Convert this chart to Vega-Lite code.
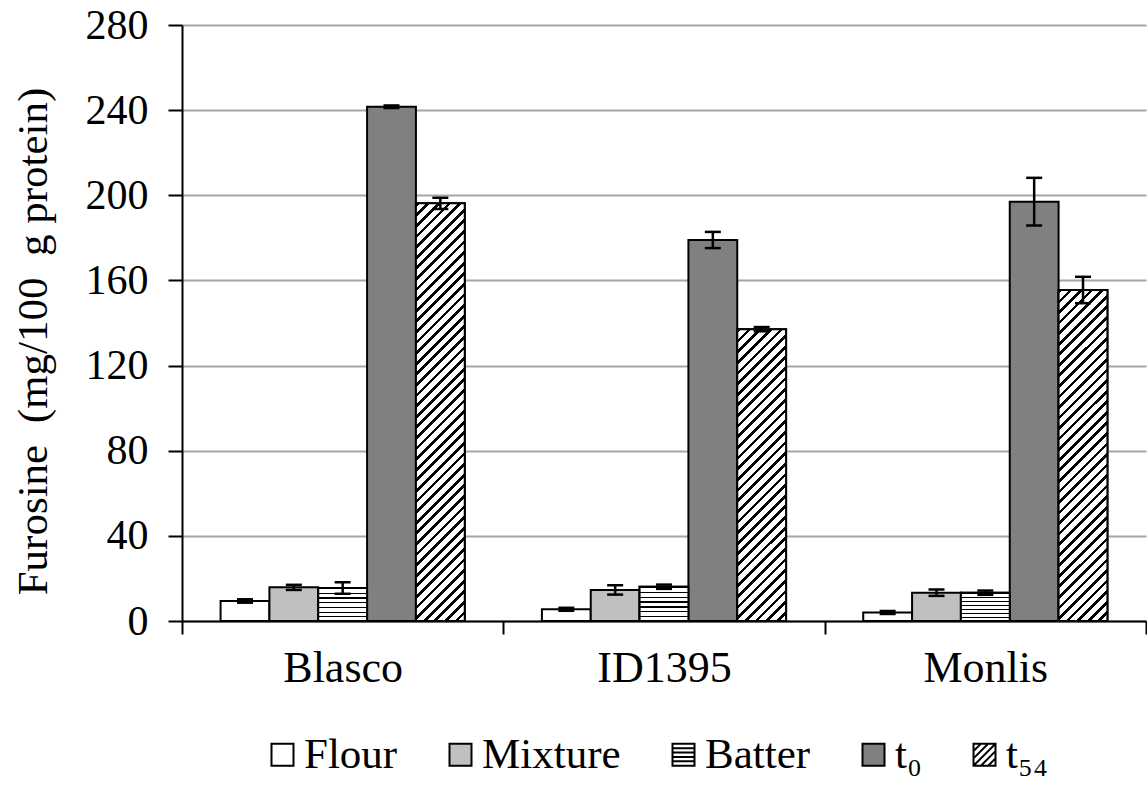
{
  "$schema": "https://vega.github.io/schema/vega-lite/v6.json",
  "width": 964,
  "height": 596,
  "autosize": "none",
  "padding": {"left": 182, "top": 25, "right": 1, "bottom": 166},
  "background": "white",
  "config": {
    "font": "Liberation Serif",
    "view": {"stroke": null},
    "axis": {"labelFont": "Liberation Serif", "titleFont": "Liberation Serif", "labelColor": "black", "titleColor": "black", "domainColor": "black", "tickColor": "black", "domainWidth": 2, "tickWidth": 2}
  },
  "data": {
    "values": [
      {"cultivar": "Blasco", "series": "Flour", "mean": 9.4, "lo": 8.6, "hi": 10.2},
      {"cultivar": "Blasco", "series": "Mixture", "mean": 15.8, "lo": 14.6, "hi": 17.0},
      {"cultivar": "Blasco", "series": "Batter", "mean": 15.5, "lo": 12.8, "hi": 18.2},
      {"cultivar": "Blasco", "series": "t₀", "mean": 241.6, "lo": 241.0, "hi": 242.2},
      {"cultivar": "Blasco", "series": "t₅₄", "mean": 196.2, "lo": 193.6, "hi": 198.8},
      {"cultivar": "ID1395", "series": "Flour", "mean": 5.5, "lo": 4.8, "hi": 6.2},
      {"cultivar": "ID1395", "series": "Mixture", "mean": 14.6, "lo": 12.4, "hi": 16.8},
      {"cultivar": "ID1395", "series": "Batter", "mean": 16.1, "lo": 15.1, "hi": 17.1},
      {"cultivar": "ID1395", "series": "t₀", "mean": 179.0, "lo": 175.2, "hi": 182.8},
      {"cultivar": "ID1395", "series": "t₅₄", "mean": 137.1, "lo": 136.1, "hi": 138.1},
      {"cultivar": "Monlis", "series": "Flour", "mean": 4.0, "lo": 3.3, "hi": 4.7},
      {"cultivar": "Monlis", "series": "Mixture", "mean": 13.3, "lo": 11.8, "hi": 14.8},
      {"cultivar": "Monlis", "series": "Batter", "mean": 13.3, "lo": 12.3, "hi": 14.3},
      {"cultivar": "Monlis", "series": "t₀", "mean": 197.0, "lo": 185.8, "hi": 208.2},
      {"cultivar": "Monlis", "series": "t₅₄", "mean": 155.5, "lo": 149.3, "hi": 161.7}
    ]
  },
  "encoding": {
    "x": {
      "field": "cultivar", "type": "nominal",
      "scale": {"domain": ["Blasco", "ID1395", "Monlis"], "paddingInner": 0, "paddingOuter": 0},
      "axis": {"title": null, "labelAngle": 0, "labelFontSize": 44, "tickBand": "extent", "tickSize": 13, "labelPadding": 12, "grid": false}
    },
    "xOffset": {
      "field": "series", "type": "nominal",
      "scale": {"domain": ["Flour", "Mixture", "Batter", "t₀", "t₅₄"], "paddingInner": 0, "paddingOuter": 0.79}
    }
  },
  "layer": [
    {
      "mark": {"type": "bar", "stroke": "black", "strokeWidth": 2},
      "encoding": {
        "y": {
          "field": "mean", "type": "quantitative",
          "scale": {"domain": [0, 280], "nice": false},
          "axis": {"values": [0, 40, 80, 120, 160, 200, 240, 280], "labelFontSize": 42, "tickSize": 14, "labelPadding": 20, "gridColor": "#a6a6a6", "gridWidth": 2, "grid": true, "title": "Furosine\u00a0\u00a0(mg/100\u00a0\u00a0g protein)", "titleFontSize": 43, "titleFontWeight": "normal", "titleX": -149, "titleY": 316, "titleAngle": -90, "titleAlign": "center", "titleBaseline": "middle"}
        },
        "color": {
          "field": "series", "type": "nominal",
          "scale": {"domain": ["Flour", "Mixture", "Batter", "t₀", "t₅₄"], "range": ["white", "#c0c0c0", "white", "#808080", "white"]},
          "legend": {
            "title": null, "orient": "none", "legendX": 79, "legendY": 708, "direction": "horizontal", "columns": 5,
            "labelFont": "Liberation Serif", "labelFontSize": 43, "labelColor": "black", "labelLimit": 0,
            "symbolType": {"expr": "datum.value === 'Batter' ? 'M-1,-1H1V1H-1Z M-1,-0.6H1 M-1,-0.2H1 M-1,0.2H1 M-1,0.6H1' : datum.value === 't₅₄' ? 'M-1,-1H1V1H-1Z M-1,-0.33L-0.33,-1 M-1,0.33L0.33,-1 M-1,1L1,-1 M-0.33,1L1,-0.33 M0.33,1L1,0.33' : 'square'"},
            "symbolSize": 484, "symbolStrokeColor": "black", "symbolStrokeWidth": 2, "symbolOpacity": 1,
            "labelOffset": 0, "columnPadding": 41, "padding": 0
          }
        }
      }
    },
    {
      "transform": [{"filter": "datum.series === 'Batter'"}],
      "mark": {"type": "bar", "stroke": "black", "strokeWidth": 2, "fill": {"gradient": "linear", "x1": 0, "y1": 0, "x2": 0, "y2": 1, "stops": [
        {"offset": 0, "color": "#000"}, {"offset": 0.0357, "color": "#000"}, {"offset": 0.0357, "color": "#fff"}, {"offset": 0.1429, "color": "#fff"},
        {"offset": 0.1429, "color": "#000"}, {"offset": 0.1786, "color": "#000"}, {"offset": 0.1786, "color": "#fff"}, {"offset": 0.2857, "color": "#fff"},
        {"offset": 0.2857, "color": "#000"}, {"offset": 0.3214, "color": "#000"}, {"offset": 0.3214, "color": "#fff"}, {"offset": 0.4286, "color": "#fff"},
        {"offset": 0.4286, "color": "#000"}, {"offset": 0.4643, "color": "#000"}, {"offset": 0.4643, "color": "#fff"}, {"offset": 0.5714, "color": "#fff"},
        {"offset": 0.5714, "color": "#000"}, {"offset": 0.6071, "color": "#000"}, {"offset": 0.6071, "color": "#fff"}, {"offset": 0.7143, "color": "#fff"},
        {"offset": 0.7143, "color": "#000"}, {"offset": 0.75, "color": "#000"}, {"offset": 0.75, "color": "#fff"}, {"offset": 0.8571, "color": "#fff"},
        {"offset": 0.8571, "color": "#000"}, {"offset": 0.8929, "color": "#000"}, {"offset": 0.8929, "color": "#fff"}, {"offset": 1, "color": "#fff"}
      ]}},
      "encoding": {"y": {"field": "mean", "type": "quantitative"}}
    },
    {
      "transform": [{"filter": "datum.series === 't₅₄' && datum.cultivar === 'Blasco'"}],
      "mark": {"type": "bar", "stroke": "black", "strokeWidth": 2, "fill": {"gradient": "linear", "x1": 0, "y1": 0, "x2": 0.12876, "y2": 1.10186, "stops": [
        {"offset": 0, "color": "#000"}, {"offset": 0.0080, "color": "#000"}, {"offset": 0.0080, "color": "#fff"}, {"offset": 0.0227, "color": "#fff"},
        {"offset": 0.0227, "color": "#000"}, {"offset": 0.0307, "color": "#000"}, {"offset": 0.0307, "color": "#fff"}, {"offset": 0.0455, "color": "#fff"},
        {"offset": 0.0455, "color": "#000"}, {"offset": 0.0534, "color": "#000"}, {"offset": 0.0534, "color": "#fff"}, {"offset": 0.0682, "color": "#fff"},
        {"offset": 0.0682, "color": "#000"}, {"offset": 0.0761, "color": "#000"}, {"offset": 0.0761, "color": "#fff"}, {"offset": 0.0909, "color": "#fff"},
        {"offset": 0.0909, "color": "#000"}, {"offset": 0.0989, "color": "#000"}, {"offset": 0.0989, "color": "#fff"}, {"offset": 0.1136, "color": "#fff"},
        {"offset": 0.1136, "color": "#000"}, {"offset": 0.1216, "color": "#000"}, {"offset": 0.1216, "color": "#fff"}, {"offset": 0.1364, "color": "#fff"},
        {"offset": 0.1364, "color": "#000"}, {"offset": 0.1443, "color": "#000"}, {"offset": 0.1443, "color": "#fff"}, {"offset": 0.1591, "color": "#fff"},
        {"offset": 0.1591, "color": "#000"}, {"offset": 0.1670, "color": "#000"}, {"offset": 0.1670, "color": "#fff"}, {"offset": 0.1818, "color": "#fff"},
        {"offset": 0.1818, "color": "#000"}, {"offset": 0.1898, "color": "#000"}, {"offset": 0.1898, "color": "#fff"}, {"offset": 0.2045, "color": "#fff"},
        {"offset": 0.2045, "color": "#000"}, {"offset": 0.2125, "color": "#000"}, {"offset": 0.2125, "color": "#fff"}, {"offset": 0.2273, "color": "#fff"},
        {"offset": 0.2273, "color": "#000"}, {"offset": 0.2352, "color": "#000"}, {"offset": 0.2352, "color": "#fff"}, {"offset": 0.25, "color": "#fff"},
        {"offset": 0.25, "color": "#000"}, {"offset": 0.2580, "color": "#000"}, {"offset": 0.2580, "color": "#fff"}, {"offset": 0.2727, "color": "#fff"},
        {"offset": 0.2727, "color": "#000"}, {"offset": 0.2807, "color": "#000"}, {"offset": 0.2807, "color": "#fff"}, {"offset": 0.2955, "color": "#fff"},
        {"offset": 0.2955, "color": "#000"}, {"offset": 0.3034, "color": "#000"}, {"offset": 0.3034, "color": "#fff"}, {"offset": 0.3182, "color": "#fff"},
        {"offset": 0.3182, "color": "#000"}, {"offset": 0.3261, "color": "#000"}, {"offset": 0.3261, "color": "#fff"}, {"offset": 0.3409, "color": "#fff"},
        {"offset": 0.3409, "color": "#000"}, {"offset": 0.3489, "color": "#000"}, {"offset": 0.3489, "color": "#fff"}, {"offset": 0.3636, "color": "#fff"},
        {"offset": 0.3636, "color": "#000"}, {"offset": 0.3716, "color": "#000"}, {"offset": 0.3716, "color": "#fff"}, {"offset": 0.3864, "color": "#fff"},
        {"offset": 0.3864, "color": "#000"}, {"offset": 0.3943, "color": "#000"}, {"offset": 0.3943, "color": "#fff"}, {"offset": 0.4091, "color": "#fff"},
        {"offset": 0.4091, "color": "#000"}, {"offset": 0.4170, "color": "#000"}, {"offset": 0.4170, "color": "#fff"}, {"offset": 0.4318, "color": "#fff"},
        {"offset": 0.4318, "color": "#000"}, {"offset": 0.4398, "color": "#000"}, {"offset": 0.4398, "color": "#fff"}, {"offset": 0.4545, "color": "#fff"},
        {"offset": 0.4545, "color": "#000"}, {"offset": 0.4625, "color": "#000"}, {"offset": 0.4625, "color": "#fff"}, {"offset": 0.4773, "color": "#fff"},
        {"offset": 0.4773, "color": "#000"}, {"offset": 0.4852, "color": "#000"}, {"offset": 0.4852, "color": "#fff"}, {"offset": 0.5, "color": "#fff"},
        {"offset": 0.5, "color": "#000"}, {"offset": 0.5080, "color": "#000"}, {"offset": 0.5080, "color": "#fff"}, {"offset": 0.5227, "color": "#fff"},
        {"offset": 0.5227, "color": "#000"}, {"offset": 0.5307, "color": "#000"}, {"offset": 0.5307, "color": "#fff"}, {"offset": 0.5455, "color": "#fff"},
        {"offset": 0.5455, "color": "#000"}, {"offset": 0.5534, "color": "#000"}, {"offset": 0.5534, "color": "#fff"}, {"offset": 0.5682, "color": "#fff"},
        {"offset": 0.5682, "color": "#000"}, {"offset": 0.5761, "color": "#000"}, {"offset": 0.5761, "color": "#fff"}, {"offset": 0.5909, "color": "#fff"},
        {"offset": 0.5909, "color": "#000"}, {"offset": 0.5989, "color": "#000"}, {"offset": 0.5989, "color": "#fff"}, {"offset": 0.6136, "color": "#fff"},
        {"offset": 0.6136, "color": "#000"}, {"offset": 0.6216, "color": "#000"}, {"offset": 0.6216, "color": "#fff"}, {"offset": 0.6364, "color": "#fff"},
        {"offset": 0.6364, "color": "#000"}, {"offset": 0.6443, "color": "#000"}, {"offset": 0.6443, "color": "#fff"}, {"offset": 0.6591, "color": "#fff"},
        {"offset": 0.6591, "color": "#000"}, {"offset": 0.6670, "color": "#000"}, {"offset": 0.6670, "color": "#fff"}, {"offset": 0.6818, "color": "#fff"},
        {"offset": 0.6818, "color": "#000"}, {"offset": 0.6898, "color": "#000"}, {"offset": 0.6898, "color": "#fff"}, {"offset": 0.7045, "color": "#fff"},
        {"offset": 0.7045, "color": "#000"}, {"offset": 0.7125, "color": "#000"}, {"offset": 0.7125, "color": "#fff"}, {"offset": 0.7273, "color": "#fff"},
        {"offset": 0.7273, "color": "#000"}, {"offset": 0.7352, "color": "#000"}, {"offset": 0.7352, "color": "#fff"}, {"offset": 0.75, "color": "#fff"},
        {"offset": 0.75, "color": "#000"}, {"offset": 0.7580, "color": "#000"}, {"offset": 0.7580, "color": "#fff"}, {"offset": 0.7727, "color": "#fff"},
        {"offset": 0.7727, "color": "#000"}, {"offset": 0.7807, "color": "#000"}, {"offset": 0.7807, "color": "#fff"}, {"offset": 0.7955, "color": "#fff"},
        {"offset": 0.7955, "color": "#000"}, {"offset": 0.8034, "color": "#000"}, {"offset": 0.8034, "color": "#fff"}, {"offset": 0.8182, "color": "#fff"},
        {"offset": 0.8182, "color": "#000"}, {"offset": 0.8261, "color": "#000"}, {"offset": 0.8261, "color": "#fff"}, {"offset": 0.8409, "color": "#fff"},
        {"offset": 0.8409, "color": "#000"}, {"offset": 0.8489, "color": "#000"}, {"offset": 0.8489, "color": "#fff"}, {"offset": 0.8636, "color": "#fff"},
        {"offset": 0.8636, "color": "#000"}, {"offset": 0.8716, "color": "#000"}, {"offset": 0.8716, "color": "#fff"}, {"offset": 0.8864, "color": "#fff"},
        {"offset": 0.8864, "color": "#000"}, {"offset": 0.8943, "color": "#000"}, {"offset": 0.8943, "color": "#fff"}, {"offset": 0.9091, "color": "#fff"},
        {"offset": 0.9091, "color": "#000"}, {"offset": 0.9170, "color": "#000"}, {"offset": 0.9170, "color": "#fff"}, {"offset": 0.9318, "color": "#fff"},
        {"offset": 0.9318, "color": "#000"}, {"offset": 0.9398, "color": "#000"}, {"offset": 0.9398, "color": "#fff"}, {"offset": 0.9545, "color": "#fff"},
        {"offset": 0.9545, "color": "#000"}, {"offset": 0.9625, "color": "#000"}, {"offset": 0.9625, "color": "#fff"}, {"offset": 0.9773, "color": "#fff"},
        {"offset": 0.9773, "color": "#000"}, {"offset": 0.9852, "color": "#000"}, {"offset": 0.9852, "color": "#fff"}, {"offset": 1, "color": "#fff"}
      ]}},
      "encoding": {"y": {"field": "mean", "type": "quantitative"}}
    },
    {
      "transform": [{"filter": "datum.series === 't₅₄' && datum.cultivar === 'ID1395'"}],
      "mark": {"type": "bar", "stroke": "black", "strokeWidth": 2, "fill": {"gradient": "linear", "x1": 0, "y1": 0, "x2": 0.1899, "y2": 1.13546, "stops": [
        {"offset": 0, "color": "#000"}, {"offset": 0.0109, "color": "#000"}, {"offset": 0.0109, "color": "#fff"}, {"offset": 0.03125, "color": "#fff"},
        {"offset": 0.03125, "color": "#000"}, {"offset": 0.0422, "color": "#000"}, {"offset": 0.0422, "color": "#fff"}, {"offset": 0.0625, "color": "#fff"},
        {"offset": 0.0625, "color": "#000"}, {"offset": 0.0734, "color": "#000"}, {"offset": 0.0734, "color": "#fff"}, {"offset": 0.09375, "color": "#fff"},
        {"offset": 0.09375, "color": "#000"}, {"offset": 0.1047, "color": "#000"}, {"offset": 0.1047, "color": "#fff"}, {"offset": 0.125, "color": "#fff"},
        {"offset": 0.125, "color": "#000"}, {"offset": 0.1359, "color": "#000"}, {"offset": 0.1359, "color": "#fff"}, {"offset": 0.15625, "color": "#fff"},
        {"offset": 0.15625, "color": "#000"}, {"offset": 0.1672, "color": "#000"}, {"offset": 0.1672, "color": "#fff"}, {"offset": 0.1875, "color": "#fff"},
        {"offset": 0.1875, "color": "#000"}, {"offset": 0.1984, "color": "#000"}, {"offset": 0.1984, "color": "#fff"}, {"offset": 0.21875, "color": "#fff"},
        {"offset": 0.21875, "color": "#000"}, {"offset": 0.2297, "color": "#000"}, {"offset": 0.2297, "color": "#fff"}, {"offset": 0.25, "color": "#fff"},
        {"offset": 0.25, "color": "#000"}, {"offset": 0.2609, "color": "#000"}, {"offset": 0.2609, "color": "#fff"}, {"offset": 0.28125, "color": "#fff"},
        {"offset": 0.28125, "color": "#000"}, {"offset": 0.2922, "color": "#000"}, {"offset": 0.2922, "color": "#fff"}, {"offset": 0.3125, "color": "#fff"},
        {"offset": 0.3125, "color": "#000"}, {"offset": 0.3234, "color": "#000"}, {"offset": 0.3234, "color": "#fff"}, {"offset": 0.34375, "color": "#fff"},
        {"offset": 0.34375, "color": "#000"}, {"offset": 0.3547, "color": "#000"}, {"offset": 0.3547, "color": "#fff"}, {"offset": 0.375, "color": "#fff"},
        {"offset": 0.375, "color": "#000"}, {"offset": 0.3859, "color": "#000"}, {"offset": 0.3859, "color": "#fff"}, {"offset": 0.40625, "color": "#fff"},
        {"offset": 0.40625, "color": "#000"}, {"offset": 0.4172, "color": "#000"}, {"offset": 0.4172, "color": "#fff"}, {"offset": 0.4375, "color": "#fff"},
        {"offset": 0.4375, "color": "#000"}, {"offset": 0.4484, "color": "#000"}, {"offset": 0.4484, "color": "#fff"}, {"offset": 0.46875, "color": "#fff"},
        {"offset": 0.46875, "color": "#000"}, {"offset": 0.4797, "color": "#000"}, {"offset": 0.4797, "color": "#fff"}, {"offset": 0.5, "color": "#fff"},
        {"offset": 0.5, "color": "#000"}, {"offset": 0.5109, "color": "#000"}, {"offset": 0.5109, "color": "#fff"}, {"offset": 0.53125, "color": "#fff"},
        {"offset": 0.53125, "color": "#000"}, {"offset": 0.5422, "color": "#000"}, {"offset": 0.5422, "color": "#fff"}, {"offset": 0.5625, "color": "#fff"},
        {"offset": 0.5625, "color": "#000"}, {"offset": 0.5734, "color": "#000"}, {"offset": 0.5734, "color": "#fff"}, {"offset": 0.59375, "color": "#fff"},
        {"offset": 0.59375, "color": "#000"}, {"offset": 0.6047, "color": "#000"}, {"offset": 0.6047, "color": "#fff"}, {"offset": 0.625, "color": "#fff"},
        {"offset": 0.625, "color": "#000"}, {"offset": 0.6359, "color": "#000"}, {"offset": 0.6359, "color": "#fff"}, {"offset": 0.65625, "color": "#fff"},
        {"offset": 0.65625, "color": "#000"}, {"offset": 0.6672, "color": "#000"}, {"offset": 0.6672, "color": "#fff"}, {"offset": 0.6875, "color": "#fff"},
        {"offset": 0.6875, "color": "#000"}, {"offset": 0.6984, "color": "#000"}, {"offset": 0.6984, "color": "#fff"}, {"offset": 0.71875, "color": "#fff"},
        {"offset": 0.71875, "color": "#000"}, {"offset": 0.7297, "color": "#000"}, {"offset": 0.7297, "color": "#fff"}, {"offset": 0.75, "color": "#fff"},
        {"offset": 0.75, "color": "#000"}, {"offset": 0.7609, "color": "#000"}, {"offset": 0.7609, "color": "#fff"}, {"offset": 0.78125, "color": "#fff"},
        {"offset": 0.78125, "color": "#000"}, {"offset": 0.7922, "color": "#000"}, {"offset": 0.7922, "color": "#fff"}, {"offset": 0.8125, "color": "#fff"},
        {"offset": 0.8125, "color": "#000"}, {"offset": 0.8234, "color": "#000"}, {"offset": 0.8234, "color": "#fff"}, {"offset": 0.84375, "color": "#fff"},
        {"offset": 0.84375, "color": "#000"}, {"offset": 0.8547, "color": "#000"}, {"offset": 0.8547, "color": "#fff"}, {"offset": 0.875, "color": "#fff"},
        {"offset": 0.875, "color": "#000"}, {"offset": 0.8859, "color": "#000"}, {"offset": 0.8859, "color": "#fff"}, {"offset": 0.90625, "color": "#fff"},
        {"offset": 0.90625, "color": "#000"}, {"offset": 0.9172, "color": "#000"}, {"offset": 0.9172, "color": "#fff"}, {"offset": 0.9375, "color": "#fff"},
        {"offset": 0.9375, "color": "#000"}, {"offset": 0.9484, "color": "#000"}, {"offset": 0.9484, "color": "#fff"}, {"offset": 0.96875, "color": "#fff"},
        {"offset": 0.96875, "color": "#000"}, {"offset": 0.9797, "color": "#000"}, {"offset": 0.9797, "color": "#fff"}, {"offset": 1, "color": "#fff"}
      ]}},
      "encoding": {"y": {"field": "mean", "type": "quantitative"}}
    },
    {
      "transform": [{"filter": "datum.series === 't₅₄' && datum.cultivar === 'Monlis'"}],
      "mark": {"type": "bar", "stroke": "black", "strokeWidth": 2, "fill": {"gradient": "linear", "x1": 0, "y1": 0, "x2": 0.16556, "y2": 1.12298, "stops": [
        {"offset": 0, "color": "#000"}, {"offset": 0.0097, "color": "#000"}, {"offset": 0.0097, "color": "#fff"}, {"offset": 0.0278, "color": "#fff"},
        {"offset": 0.0278, "color": "#000"}, {"offset": 0.0375, "color": "#000"}, {"offset": 0.0375, "color": "#fff"}, {"offset": 0.0556, "color": "#fff"},
        {"offset": 0.0556, "color": "#000"}, {"offset": 0.0653, "color": "#000"}, {"offset": 0.0653, "color": "#fff"}, {"offset": 0.0833, "color": "#fff"},
        {"offset": 0.0833, "color": "#000"}, {"offset": 0.0931, "color": "#000"}, {"offset": 0.0931, "color": "#fff"}, {"offset": 0.1111, "color": "#fff"},
        {"offset": 0.1111, "color": "#000"}, {"offset": 0.1208, "color": "#000"}, {"offset": 0.1208, "color": "#fff"}, {"offset": 0.1389, "color": "#fff"},
        {"offset": 0.1389, "color": "#000"}, {"offset": 0.1486, "color": "#000"}, {"offset": 0.1486, "color": "#fff"}, {"offset": 0.1667, "color": "#fff"},
        {"offset": 0.1667, "color": "#000"}, {"offset": 0.1764, "color": "#000"}, {"offset": 0.1764, "color": "#fff"}, {"offset": 0.1944, "color": "#fff"},
        {"offset": 0.1944, "color": "#000"}, {"offset": 0.2042, "color": "#000"}, {"offset": 0.2042, "color": "#fff"}, {"offset": 0.2222, "color": "#fff"},
        {"offset": 0.2222, "color": "#000"}, {"offset": 0.2319, "color": "#000"}, {"offset": 0.2319, "color": "#fff"}, {"offset": 0.25, "color": "#fff"},
        {"offset": 0.25, "color": "#000"}, {"offset": 0.2597, "color": "#000"}, {"offset": 0.2597, "color": "#fff"}, {"offset": 0.2778, "color": "#fff"},
        {"offset": 0.2778, "color": "#000"}, {"offset": 0.2875, "color": "#000"}, {"offset": 0.2875, "color": "#fff"}, {"offset": 0.3056, "color": "#fff"},
        {"offset": 0.3056, "color": "#000"}, {"offset": 0.3153, "color": "#000"}, {"offset": 0.3153, "color": "#fff"}, {"offset": 0.3333, "color": "#fff"},
        {"offset": 0.3333, "color": "#000"}, {"offset": 0.3431, "color": "#000"}, {"offset": 0.3431, "color": "#fff"}, {"offset": 0.3611, "color": "#fff"},
        {"offset": 0.3611, "color": "#000"}, {"offset": 0.3708, "color": "#000"}, {"offset": 0.3708, "color": "#fff"}, {"offset": 0.3889, "color": "#fff"},
        {"offset": 0.3889, "color": "#000"}, {"offset": 0.3986, "color": "#000"}, {"offset": 0.3986, "color": "#fff"}, {"offset": 0.4167, "color": "#fff"},
        {"offset": 0.4167, "color": "#000"}, {"offset": 0.4264, "color": "#000"}, {"offset": 0.4264, "color": "#fff"}, {"offset": 0.4444, "color": "#fff"},
        {"offset": 0.4444, "color": "#000"}, {"offset": 0.4542, "color": "#000"}, {"offset": 0.4542, "color": "#fff"}, {"offset": 0.4722, "color": "#fff"},
        {"offset": 0.4722, "color": "#000"}, {"offset": 0.4819, "color": "#000"}, {"offset": 0.4819, "color": "#fff"}, {"offset": 0.5, "color": "#fff"},
        {"offset": 0.5, "color": "#000"}, {"offset": 0.5097, "color": "#000"}, {"offset": 0.5097, "color": "#fff"}, {"offset": 0.5278, "color": "#fff"},
        {"offset": 0.5278, "color": "#000"}, {"offset": 0.5375, "color": "#000"}, {"offset": 0.5375, "color": "#fff"}, {"offset": 0.5556, "color": "#fff"},
        {"offset": 0.5556, "color": "#000"}, {"offset": 0.5653, "color": "#000"}, {"offset": 0.5653, "color": "#fff"}, {"offset": 0.5833, "color": "#fff"},
        {"offset": 0.5833, "color": "#000"}, {"offset": 0.5931, "color": "#000"}, {"offset": 0.5931, "color": "#fff"}, {"offset": 0.6111, "color": "#fff"},
        {"offset": 0.6111, "color": "#000"}, {"offset": 0.6208, "color": "#000"}, {"offset": 0.6208, "color": "#fff"}, {"offset": 0.6389, "color": "#fff"},
        {"offset": 0.6389, "color": "#000"}, {"offset": 0.6486, "color": "#000"}, {"offset": 0.6486, "color": "#fff"}, {"offset": 0.6667, "color": "#fff"},
        {"offset": 0.6667, "color": "#000"}, {"offset": 0.6764, "color": "#000"}, {"offset": 0.6764, "color": "#fff"}, {"offset": 0.6944, "color": "#fff"},
        {"offset": 0.6944, "color": "#000"}, {"offset": 0.7042, "color": "#000"}, {"offset": 0.7042, "color": "#fff"}, {"offset": 0.7222, "color": "#fff"},
        {"offset": 0.7222, "color": "#000"}, {"offset": 0.7319, "color": "#000"}, {"offset": 0.7319, "color": "#fff"}, {"offset": 0.75, "color": "#fff"},
        {"offset": 0.75, "color": "#000"}, {"offset": 0.7597, "color": "#000"}, {"offset": 0.7597, "color": "#fff"}, {"offset": 0.7778, "color": "#fff"},
        {"offset": 0.7778, "color": "#000"}, {"offset": 0.7875, "color": "#000"}, {"offset": 0.7875, "color": "#fff"}, {"offset": 0.8056, "color": "#fff"},
        {"offset": 0.8056, "color": "#000"}, {"offset": 0.8153, "color": "#000"}, {"offset": 0.8153, "color": "#fff"}, {"offset": 0.8333, "color": "#fff"},
        {"offset": 0.8333, "color": "#000"}, {"offset": 0.8431, "color": "#000"}, {"offset": 0.8431, "color": "#fff"}, {"offset": 0.8611, "color": "#fff"},
        {"offset": 0.8611, "color": "#000"}, {"offset": 0.8708, "color": "#000"}, {"offset": 0.8708, "color": "#fff"}, {"offset": 0.8889, "color": "#fff"},
        {"offset": 0.8889, "color": "#000"}, {"offset": 0.8986, "color": "#000"}, {"offset": 0.8986, "color": "#fff"}, {"offset": 0.9167, "color": "#fff"},
        {"offset": 0.9167, "color": "#000"}, {"offset": 0.9264, "color": "#000"}, {"offset": 0.9264, "color": "#fff"}, {"offset": 0.9444, "color": "#fff"},
        {"offset": 0.9444, "color": "#000"}, {"offset": 0.9542, "color": "#000"}, {"offset": 0.9542, "color": "#fff"}, {"offset": 0.9722, "color": "#fff"},
        {"offset": 0.9722, "color": "#000"}, {"offset": 0.9819, "color": "#000"}, {"offset": 0.9819, "color": "#fff"}, {"offset": 1, "color": "#fff"}
      ]}},
      "encoding": {"y": {"field": "mean", "type": "quantitative"}}
    },
    {
      "mark": {"type": "rule", "color": "black", "strokeWidth": 2.5},
      "encoding": {"y": {"field": "lo", "type": "quantitative"}, "y2": {"field": "hi"}}
    },
    {
      "mark": {"type": "tick", "color": "black", "size": 16, "thickness": 2.5, "opacity": 1},
      "encoding": {"y": {"field": "lo", "type": "quantitative"}}
    },
    {
      "mark": {"type": "tick", "color": "black", "size": 16, "thickness": 2.5, "opacity": 1},
      "encoding": {"y": {"field": "hi", "type": "quantitative"}}
    }
  ]
}
